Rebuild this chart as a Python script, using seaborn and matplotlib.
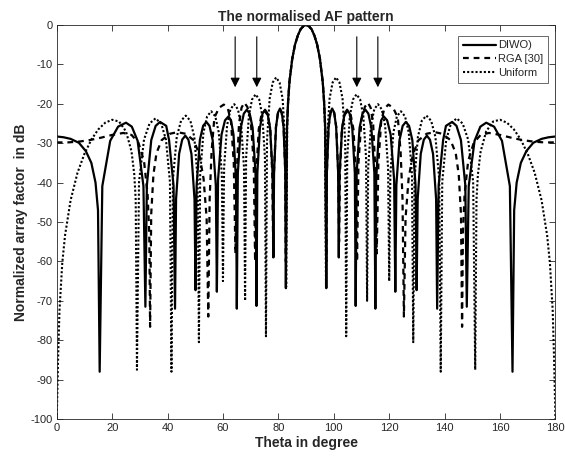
import matplotlib
matplotlib.use("Agg")
import matplotlib.pyplot as plt
import seaborn as sns

# ---------------- data ----------------
diwo_theta = [0, 2.5, 5, 8, 10.5, 12.5, 14, 14.9, 15.5,
              16.45, 19.3, 22.15, 25.0, 27.1, 29.2, 31.3, 32.0,
              32.53, 34.12, 35.71, 37.3, 39.52, 40.54, 42.16, 42.7,
              43.07, 44.18, 45.29, 46.4, 47.51, 48.62, 49.73, 50.1,
              50.49, 51.66, 52.83, 54.0, 55.14, 56.28, 57.42, 57.8,
              58.22, 59.48, 60.74, 62.0, 62.9, 63.8, 64.7, 65.0,
              65.36, 66.44, 67.52, 68.6, 69.65, 70.7, 71.75, 72.1,
              72.41, 73.34, 74.27, 75.2, 76.1, 77.0, 77.9, 78.2,
              78.44, 79.16, 79.88, 80.6, 81.23, 81.86, 82.49, 82.7,
              83.1, 83.5, 84, 85, 86, 87, 88, 89, 90,
              91, 92, 93, 94, 95, 96, 96.5, 96.9, 97.3,
              97.51, 98.14, 98.77, 99.4, 100.12, 100.84, 101.56, 101.8,
              102.1, 103.0, 103.9, 104.8, 105.73, 106.66, 107.59, 107.9,
              108.25, 109.3, 110.35, 111.4, 112.48, 113.56, 114.64, 115.0,
              115.3, 116.2, 117.1, 118.0, 119.26, 120.52, 121.78, 122.2,
              122.58, 123.72, 124.86, 126.0, 127.17, 128.34, 129.51, 129.9,
              130.27, 131.38, 132.49, 133.6, 134.71, 135.82, 136.93, 137.3,
              137.84, 139.46, 140.48, 142.7, 144.29, 145.88, 147.47, 148.0,
              148.7, 150.8, 152.9, 155.0, 157.85, 160.7, 163.55, 164.5,
              165.1, 166, 167.5, 169.5, 172, 175, 177.5, 180]
diwo_db = [-28.3, -28.5, -28.9, -29.9, -32.0, -35.0, -40.0, -47.0, -88.0,
           -40.9, -29.4, -25.8, -24.8, -25.8, -29.4, -40.9, -71.5,
           -40.7, -29.2, -25.6, -24.6, -25.6, -29.2, -40.7, -72.0,
           -44.2, -32.7, -29.1, -28.1, -29.1, -32.7, -44.2, -67.3,
           -40.7, -29.2, -25.6, -24.6, -25.6, -29.2, -40.7, -67.7,
           -39.3, -27.8, -24.2, -23.2, -24.2, -27.8, -39.3, -72.0,
           -37.6, -26.1, -22.5, -21.5, -22.5, -26.1, -37.6, -71.3,
           -37.6, -26.1, -22.5, -21.5, -22.5, -26.1, -37.6, -59.0,
           -37.3, -25.8, -22.2, -21.2, -22.2, -25.8, -37.3, -66.8,
           -26.0, -19.5, -14.4, -8.6, -5.0, -2.7, -1.1, -0.3, 0.0,
           -0.3, -1.1, -2.7, -5.0, -8.6, -14.4, -19.5, -26.0, -66.8,
           -37.3, -25.8, -22.2, -21.2, -22.2, -25.8, -37.3, -59.0,
           -37.6, -26.1, -22.5, -21.5, -22.5, -26.1, -37.6, -71.3,
           -37.6, -26.1, -22.5, -21.5, -22.5, -26.1, -37.6, -72.0,
           -39.3, -27.8, -24.2, -23.2, -24.2, -27.8, -39.3, -67.7,
           -40.7, -29.2, -25.6, -24.6, -25.6, -29.2, -40.7, -67.3,
           -44.2, -32.7, -29.1, -28.1, -29.1, -32.7, -44.2, -72.0,
           -40.7, -29.2, -25.6, -24.6, -25.6, -29.2, -40.7, -71.5,
           -40.9, -29.4, -25.8, -24.8, -25.8, -29.4, -40.9, -88.0,
           -47.0, -40.0, -35.0, -32.0, -29.9, -28.9, -28.5, -28.3]

rga_theta = [0, 4, 8, 12, 16, 20, 24, 27, 29.5, 31.5, 32.8, 33.4, 33.7,
             34.1, 34.9, 36.0, 37.9, 40.9, 43.5, 46.5, 49.5, 51.5, 53.0, 54.1, 54.7,
             55.2, 55.9, 56.9, 58.6, 60.3, 61.8, 62.9, 63.9, 64.5,
             65.0, 65.8, 66.7, 67.7, 68.8, 70.0, 71.1, 71.6,
             72.0, 72.9, 73.9, 75.0, 76.1, 77.1, 77.8, 78.1,
             78.4, 79.1, 79.8, 80.5, 81.2, 81.9, 82.5, 82.7,
             83.1, 83.5, 84, 85, 86, 87, 88, 89, 90,
             91, 92, 93, 94, 95, 96, 96.5, 96.9, 97.3,
             97.5, 98.1, 98.8, 99.5, 100.2, 100.9, 101.6, 101.9,
             102.2, 102.9, 103.9, 105.0, 106.1, 107.1, 108.0, 108.4,
             108.9, 110.0, 111.2, 112.3, 113.3, 114.2, 115.0, 115.5,
             116.1, 117.1, 118.2, 119.7, 121.4, 123.1, 124.1, 124.8, 125.3,
             125.9, 127.0, 128.5, 130.5, 133.5, 136.5, 139.1, 142.1, 144.0, 145.1, 145.9, 146.3,
             146.6, 147.2, 148.5, 150.5, 153, 156, 160, 164, 168, 172, 176, 180]
rga_db = [-29.8, -29.8, -29.6, -29.2, -28.6, -27.9, -27.4, -27.9, -29.9, -34.5, -43.0, -53.0, -76.6,
          -48.0, -38.0, -32.5, -29.2, -27.6, -27.2, -27.6, -29.3, -33.0, -39.0, -49.0, -74.0,
          -44.0, -32.0, -23.5, -21.0, -20.2, -21.3, -24.5, -35.0, -58.0,
          -37.0, -25.0, -21.0, -19.7, -20.8, -24.0, -35.0, -60.0,
          -38.0, -26.5, -22.8, -21.8, -22.8, -26.5, -38.0, -55.0,
          -37.5, -26.0, -22.4, -21.4, -22.4, -26.0, -37.5, -60.0,
          -26.0, -19.5, -14.4, -8.6, -5.0, -2.7, -1.1, -0.3, 0.0,
          -0.3, -1.1, -2.7, -5.0, -8.6, -14.4, -19.5, -26.0, -60.0,
          -37.5, -26.0, -22.4, -21.4, -22.4, -26.0, -37.5, -55.0,
          -38.0, -26.5, -22.8, -21.8, -22.8, -26.5, -38.0, -60.0,
          -35.0, -24.0, -20.8, -19.7, -21.0, -25.0, -37.0, -58.0,
          -35.0, -24.5, -21.3, -20.2, -21.0, -23.5, -32.0, -44.0, -74.0,
          -49.0, -39.0, -33.0, -29.3, -27.6, -27.2, -27.6, -29.2, -32.5, -38.0, -48.0, -76.6,
          -53.0, -43.0, -34.5, -29.9, -27.9, -27.4, -27.9, -28.6, -29.2, -29.6, -29.8, -29.8]

uniform_theta = [0, 0.5, 1, 2, 3, 5, 7.5, 10, 12.5, 15, 17.5, 20, 22.5, 25, 27, 28, 28.5, 28.96,
                 29.7, 31.5, 33.5, 35.66, 37.7, 39.42, 40.86, 41.41,
                 41.95, 43.32, 44.87, 46.57, 48.23, 49.65, 50.86, 51.32,
                 51.78, 52.95, 54.28, 55.77, 57.23, 58.50, 59.59, 60.0,
                 60.41, 61.48, 62.69, 64.06, 65.40, 66.58, 67.59, 67.98,
                 68.36, 69.36, 70.50, 71.79, 73.07, 74.19, 75.15, 75.52,
                 75.89, 76.85, 77.95, 79.19, 80.43, 81.52, 82.46, 82.82,
                 83.2, 83.5, 84, 85, 86, 87, 88, 89, 90,
                 91, 92, 93, 94, 95, 96, 96.5, 96.8, 97.18,
                 97.54, 98.48, 99.57, 100.81, 102.05, 103.15, 104.11, 104.48,
                 104.85, 105.81, 106.93, 108.21, 109.50, 110.64, 111.64, 112.02,
                 112.41, 113.42, 114.60, 115.94, 117.31, 118.52, 119.59, 120.0,
                 120.41, 121.50, 122.77, 124.23, 125.72, 127.05, 128.22, 128.68,
                 129.14, 130.35, 131.77, 133.43, 135.13, 136.68, 138.05, 138.59,
                 139.14, 140.58, 142.3, 144.34, 146.5, 148.5, 150.3, 151.04,
                 151.5, 152, 153, 155, 157.5, 160, 162.5, 165, 167.5, 170, 172.5, 175, 177, 178, 179, 179.5, 180]
uniform_db = [-100, -84.5, -72.4, -60.4, -53.4, -44.5, -37.5, -32.7, -29.1, -26.5, -24.8, -24.05, -24.5, -27.0, -32.1, -38.0, -44.3, -87.5,
              -39.8, -29.1, -25.0, -23.7, -25.0, -29.1, -39.8, -88.0,
              -39.1, -28.4, -24.3, -23.0, -24.3, -28.4, -39.1, -80.5,
              -37.9, -27.3, -23.2, -21.9, -23.2, -27.3, -37.9, -65.0,
              -36.2, -25.5, -21.4, -20.1, -21.4, -25.5, -36.2, -70.0,
              -33.6, -23.0, -18.9, -17.6, -18.9, -23.0, -33.6, -79.0,
              -29.4, -18.7, -14.6, -13.3, -14.6, -18.7, -29.4, -66.5,
              -25.1, -19.7, -14.5, -8.6, -5.0, -2.7, -1.1, -0.3, 0.0,
              -0.3, -1.1, -2.7, -5.0, -8.6, -14.5, -19.7, -25.1, -66.5,
              -29.4, -18.7, -14.6, -13.3, -14.6, -18.7, -29.4, -79.0,
              -33.6, -23.0, -18.9, -17.6, -18.9, -23.0, -33.6, -70.0,
              -36.2, -25.5, -21.4, -20.1, -21.4, -25.5, -36.2, -65.0,
              -37.9, -27.3, -23.2, -21.9, -23.2, -27.3, -37.9, -80.5,
              -39.1, -28.4, -24.3, -23.0, -24.3, -28.4, -39.1, -88.0,
              -39.8, -29.1, -25.0, -23.7, -25.0, -29.1, -39.8, -87.5,
              -44.3, -38.0, -32.1, -27.0, -24.5, -24.05, -24.8, -26.5, -29.1, -32.7, -37.5, -44.5, -53.4, -60.4, -72.4, -84.5, -100]

series_labels = ["DIWO)", "RGA [30]", "Uniform"]
x_ticks = [0, 20, 40, 60, 80, 100, 120, 140, 160, 180]
y_ticks = [0, -10, -20, -30, -40, -50, -60, -70, -80, -90, -100]
arrow_theta = [64.4, 72.2, 108.3, 115.9]
arrow_start = [-3.0, -3.0, -3.0, -3.0]
arrow_tip = [-15.8, -15.8, -15.8, -15.8]

# ---------------- styling ----------------
sns.set_style("ticks")
plt.rcParams['font.family'] = ['Liberation Sans', 'DejaVu Sans']
plt.rcParams['axes.unicode_minus'] = False

fig = plt.figure(figsize=(5.65, 4.61), dpi=100)
ax = fig.add_axes([0.1004, 0.0911, 0.8827, 0.8547])

sns.lineplot(x=diwo_theta, y=diwo_db, ax=ax, color='black', lw=1.6,
             sort=False, estimator=None, label=series_labels[0])
sns.lineplot(x=rga_theta, y=rga_db, ax=ax, color='black', lw=1.6,
             linestyle=(0, (2.6, 2.2)), sort=False, estimator=None, label=series_labels[1])
sns.lineplot(x=uniform_theta, y=uniform_db, ax=ax, color='black', lw=1.5,
             linestyle=(0, (1, 1)), sort=False, estimator=None, label=series_labels[2])

for th, y0, y1 in zip(arrow_theta, arrow_start, arrow_tip):
    ax.annotate("", xy=(th, y1), xytext=(th, y0),
                arrowprops=dict(arrowstyle='-|>', color='black', lw=0.8,
                                mutation_scale=14, shrinkA=0, shrinkB=0))

ax.set_xlim(0, 180)
ax.set_ylim(-100, 0)
ax.set_xticks(x_ticks)
ax.set_yticks(y_ticks)
ax.tick_params(direction='in', top=True, right=True, length=4, width=0.6,
               colors='#262626', labelsize=8, pad=3)
for sp in ax.spines.values():
    sp.set_color('#262626')
    sp.set_linewidth(0.6)

ax.set_title("The normalised AF pattern", fontsize=10, fontweight='bold', pad=3)
ax.set_xlabel("Theta in degree", fontsize=10, fontweight='bold', labelpad=2)
ax.set_ylabel("Normalized array factor  in dB", fontsize=10, fontweight='bold', labelpad=2)

leg = ax.legend(loc='upper right', bbox_to_anchor=(548 / 565, 1 - 36 / 461),
                bbox_transform=fig.transFigure, borderaxespad=0, frameon=True,
                fancybox=False, edgecolor='#262626', fontsize=8, handlelength=3.0,
                handletextpad=0.2, labelspacing=0.35, borderpad=0.4)
leg.get_frame().set_linewidth(0.6)

fig.savefig("out.png", dpi=100)
